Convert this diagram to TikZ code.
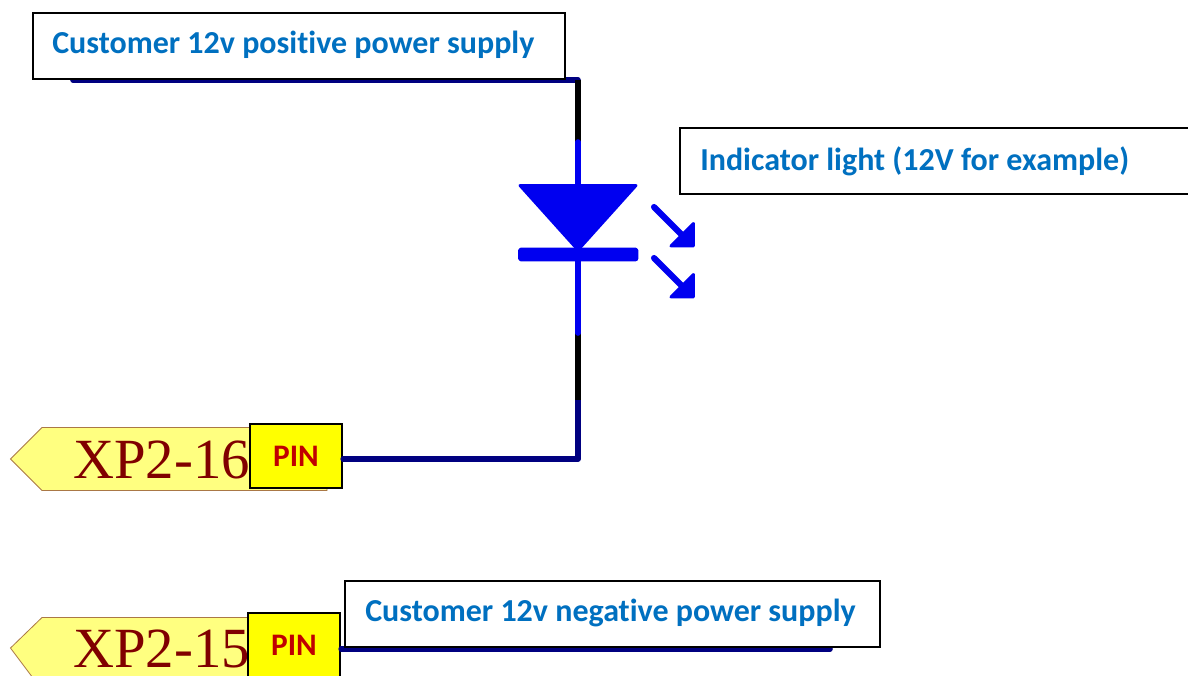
\documentclass[tikz,border=0pt]{standalone}
\usepackage{fontspec}
\setmainfont[Ligatures={NoCommon,NoRequired,NoContextual}]{Carlito}
\newfontfamily\serifxp{Liberation Serif}
\definecolor{wirenavy}{RGB}{0,0,128}
\definecolor{ledblue}{RGB}{0,0,240}
\definecolor{labelblue}{RGB}{0,112,192}
\definecolor{pinred}{RGB}{192,0,0}
\definecolor{pinyellow}{RGB}{255,255,0}
\definecolor{tagfill}{RGB}{255,255,128}
\definecolor{tagline}{RGB}{170,120,70}
\definecolor{tagtext}{RGB}{128,0,0}
\tikzset{
  x=0.75pt,y=-0.75pt,
  wire/.style={line width=4.2pt,line cap=round,line join=round},
  navywire/.style={wire,draw=wirenavy},
  blackwire/.style={line width=4.2pt,draw=black},
  bluewire/.style={line width=4.2pt,draw=ledblue,line cap=round},
  labelbox/.style={draw=black,fill=white,line width=1.5pt,anchor=north west,inner sep=0pt},
  labeltext/.style={text=labelblue,font=\fontsize{24pt}{28pt}\bfseries\selectfont,anchor=west,inner sep=0pt},
  pinbox/.style={draw=black,fill=pinyellow,line width=1.7pt,inner sep=0pt,minimum width=69pt,minimum height=48pt,text=pinred,font=\fontsize{23.5pt}{26pt}\bfseries\selectfont},
  tag/.style={draw=tagline,fill=tagfill,line width=0.6pt},
  tagtextstyle/.style={text=tagtext,font=\fontsize{42.6pt}{46pt}\serifxp\selectfont,anchor=base west,inner sep=0pt},
  ledfill/.style={fill=ledblue,draw=ledblue,line width=2.2pt,line join=round},
  ledray/.style={draw=ledblue,line width=4.6pt,line cap=round}
}
\begin{document}
\begin{tikzpicture}
\clip (0,0) rectangle (1188,675);
\useasboundingbox (0,0) rectangle (1188,675);
\fill[white] (0,0) rectangle (1188,675);
% coordinates
\coordinate (wirestart) at (73,80);
\coordinate (corner) at (578,80);
\coordinate (blacktop) at (578,142);
\coordinate (anode) at (578,185);
\coordinate (cathode) at (578,254);
\coordinate (blueend) at (578,333);
\coordinate (blackend) at (578,400);
\coordinate (corner2) at (578,459);
\coordinate (negend) at (830,649);
% tags
\draw[tag] (10.5,459) -- (42,427.5) -- (327,427.5) -- (327,490.5) -- (42,490.5) -- cycle;
\node[tagtextstyle] (tag16) at (73,478) {XP2-16};
\draw[tag] (10.5,648) -- (42,617.5) -- (327,617.5) -- (327,690) -- (42,690) -- cycle;
\node[tagtextstyle] (tag15) at (73,667) {XP2-15};
% pin boxes
\node[pinbox] (pin16) at (296,456) {PIN};
\node[pinbox] (pin15) at (294,645) {PIN};
% wires
\draw[navywire] (wirestart) -- (corner);
\draw[navywire] (blackend) -- (corner2) -- (corner2 -| pin16.east);
\draw[navywire] (negend -| pin15.east) -- (negend);
\draw[blackwire] (corner) -- (blacktop);
\draw[blackwire] (blueend) -- (blackend);
\draw[bluewire] (blacktop) -- (anode);
\draw[bluewire] (cathode) -- (blueend);
% LED
\draw[ledfill] (520,185.5) -- (636,185.5) -- (578,250) -- cycle;
\draw[ledfill,rounded corners=1.5pt] (519.5,249) rectangle (637,260);
\coordinate (ray1a) at (654,207);
\coordinate (ray1b) at (686,239);
\coordinate (ray2a) at (654,258);
\coordinate (ray2b) at (686,290);
\draw[ledray] (ray1a) -- (ray1b);
\draw[ledray] (ray2a) -- (ray2b);
\draw[ledfill] (693.5,223.5) -- (693.5,246) -- (671,246) -- cycle;
\draw[ledfill] (693.5,274.5) -- (693.5,297) -- (671,297) -- cycle;
% labels
\node[labelbox,minimum width=399.5pt,minimum height=49.5pt] (poslabel) at (31.5,12) {};
\node[labeltext] (postext) at (52,45) {Customer 12v positive power supply};
\node[labelbox,minimum width=401.5pt,minimum height=49.5pt] (neglabel) at (344,579.5) {};
\node[labeltext] (negtext) at (365,613) {Customer 12v negative power supply};
\node[labelbox,minimum width=400pt,minimum height=49.5pt] (indlabel) at (679,127) {};
\node[labeltext] (indtext) at (700,161) {Indicator light (12V for example)};
\end{tikzpicture}
\end{document}
